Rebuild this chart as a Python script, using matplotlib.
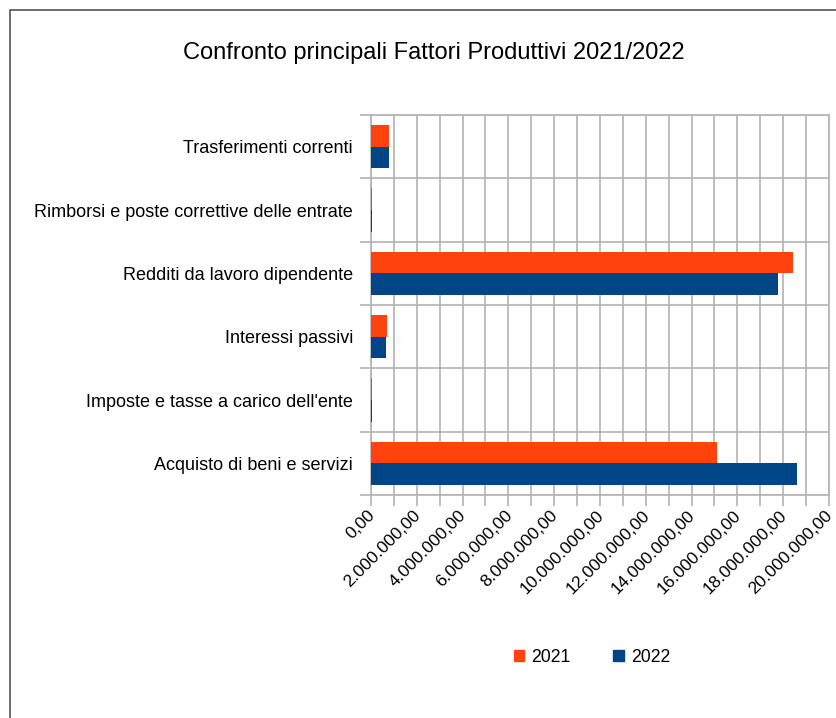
import numpy as np
import matplotlib.pyplot as plt
import matplotlib.transforms as mtransforms
from matplotlib.ticker import MultipleLocator, FuncFormatter
from matplotlib.patches import Rectangle

plt.rcParams['font.family'] = ['Liberation Sans', 'DejaVu Sans']

categories = ['Acquisto di beni e servizi', "Imposte e tasse a carico dell'ente",
              'Interessi passivi', 'Redditi da lavoro dipendente',
              'Rimborsi e poste correttive delle entrate', 'Trasferimenti correnti']
values_2021 = [15100000, 35000, 700000, 18430000, 40000, 780000]
values_2022 = [18600000, 35000, 655000, 17770000, 40000, 780000]
series_labels = ['2021', '2022']
colors = ['#ff420e', '#004586']


def it_fmt(v, pos):
    s = f'{v:,.2f}'
    return s.replace(',', 'X').replace('.', ',').replace('X', '.')


W, H = 837, 718
fig = plt.figure(figsize=(W / 100, H / 100), dpi=100)
# chart border (cropped on right and bottom)
fig.patches.append(Rectangle((10 / W, -0.1), 1.2, 1 - 10 / H + 0.1, transform=fig.transFigure,
                             fill=False, edgecolor='#555555', linewidth=1.2))

ax = fig.add_axes([371 / W, 1 - 495 / H, (829 - 371) / W, (495 - 115) / H])
y = np.arange(len(categories))
h = 0.34
ax.barh(y + h / 2, values_2021, height=h, color=colors[0], label=series_labels[0], zorder=3)
ax.barh(y - h / 2, values_2022, height=h, color=colors[1], label=series_labels[1], zorder=3)

ax.set_xlim(0, 20000000)
ax.set_ylim(-0.5, len(categories) - 0.5)
ax.xaxis.set_major_locator(MultipleLocator(2000000))
ax.xaxis.set_minor_locator(MultipleLocator(1000000))
ax.xaxis.set_major_formatter(FuncFormatter(it_fmt))
ax.set_yticks(y)
ax.set_yticklabels(categories, fontsize=13)
ax.set_yticks(np.arange(-0.5, len(categories)), minor=True)
ax.tick_params(axis='y', which='major', length=0, pad=13)
ax.tick_params(axis='y', which='minor', length=8, color='#b3b3b3', width=1.2)
ax.tick_params(axis='x', which='both', length=8, color='#b3b3b3', width=1.2)
ax.tick_params(axis='x', which='major', labelsize=12.5, pad=1)
shift = mtransforms.ScaledTranslation(-4 / 100, 0, fig.dpi_scale_trans)
for lbl in ax.get_xticklabels():
    lbl.set_rotation(45)
    lbl.set_ha('right')
    lbl.set_va('top')
    lbl.set_rotation_mode('anchor')
    lbl.set_transform(lbl.get_transform() + shift)

ax.grid(True, axis='x', which='both', color='#b3b3b3', linewidth=1.2, zorder=0)
ax.grid(True, axis='y', which='minor', color='#b3b3b3', linewidth=1.2, zorder=0)
for s in ax.spines.values():
    s.set_color('#b3b3b3')
    s.set_linewidth(1.2)

fig.text(434 / W, 1 - 53 / H, 'Confronto principali Fattori Produttivi 2021/2022',
         ha='center', va='center', fontsize=17)

handles = [Rectangle((0, 0), 1, 1, color=c) for c in colors]
fig.legend(handles, series_labels, loc='center', bbox_to_anchor=(592 / W, 1 - 657 / H),
           ncol=2, frameon=False, fontsize=12.7, handlelength=0.6, handleheight=0.6,
           handletextpad=0.4, columnspacing=2.4)

plt.savefig('out.png', dpi=100)
